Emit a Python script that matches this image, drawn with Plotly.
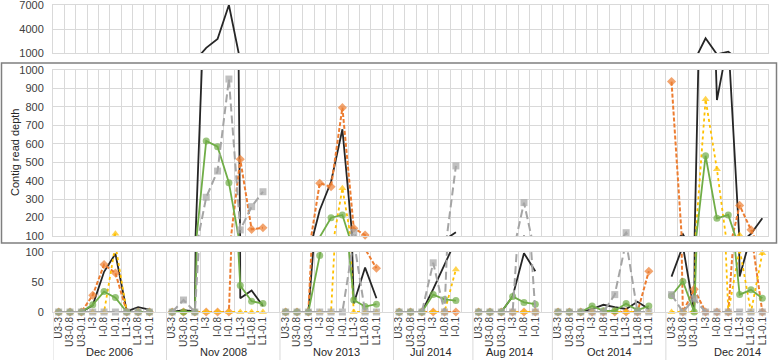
import plotly.graph_objects as go

# ---------------- data ----------------
groups = ["Dec 2006", "Nov 2008", "Nov 2013", "Jul 2014", "Aug 2014", "Oct 2014", "Dec 2014"]
cats_full = ["U3-3", "U3-0.8", "U3-0.1", "I-3", "I-0.8", "I-0.1", "L1-3", "L1-0.8", "L1-0.1"]
cats_short = ["U3-3", "U3-0.8", "U3-0.1", "I-3", "I-0.8", "I-0.1"]
group_cats = [cats_full, cats_full, cats_full, cats_short, cats_short, cats_full, cats_full]

black = [
    0, 0, 0, 11, 67, 97, 1, 8, 4,
    0, 3, 1, 1650, 2750, 7000, 23, 36, 10,
    0, 0, 0, 240, 394, 679, 14, 74, 23,
    0, 0, 0, 38, 78, 120,
    0, 0, 0, 26, 98, 68,
    0, 0, 0, 5, 12, 8, 5, 17, 5,
    59, 110, 0, 2840, 837, 1160, 59, 112, 196,
]
gray = [
    0, 0, 0, 0, 0, 0, 0, 0, 0,
    0, 20, 0, 310, 452, 951, 133, 259, 340,
    0, 0, 0, 0, 0, 0, 120, 0, 0,
    0, 0, 0, 82, 0, 480,
    0, 0, 0, 0, 281, 0,
    0, 0, 0, 0, 0, 29, 118, 0, 0,
    29, 0, 22, 0, 0, 0, 0, 0, 0,
]
orange = [
    0, 0, 0, 28, 79, 65, 0, 0, 0,
    0, 0, 0, 0, 0, 0, 516, 136, 145,
    0, 0, 0, 386, 367, 796, 142, 105, 73,
    0, 0, 0, 0, 0, 0,
    0, 0, 0, 0, 0, 0,
    0, 0, 0, 0, 0, 0, 0, 0, 68,
    937, 0, 38, 0, 0, 0, 266, 134, 0,
]
yellow = [
    0, 0, 0, 0, 0, 112, 0, 0, 0,
    0, 0, 0, 0, 0, 0, 0, 0, 0,
    0, 0, 0, 0, 0, 359, 0, 0, 0,
    0, 0, 0, 0, 0, 71,
    0, 0, 0, 0, 0, 0,
    0, 0, 0, 0, 0, 0, 0, 0, 0,
    0, 0, 0, 841, 462, 0, 105, 0, 98,
]
green = [
    0, 0, 0, 12, 34, 24, 0, 0, 0,
    0, 0, 0, 615, 584, 389, 44, 18, 14,
    0, 0, 0, 94, 199, 214, 20, 9, 13,
    0, 0, 0, 29, 21, 19,
    0, 0, 0, 26, 16, 13,
    0, 0, 0, 10, 2, 2, 14, 3, 10,
    27, 51, 0, 535, 196, 214, 29, 37, 23,
]

# ---------------- slot layout (blank slot between groups) ----------------
slot_of_point = []
tick_vals, tick_text, group_starts = [], [], []
pos = 0
for cats in group_cats:
    group_starts.append(pos)
    for c in cats:
        slot_of_point.append(pos)
        tick_vals.append(pos)
        tick_text.append(c)
        pos += 1
    pos += 1
n_slots = pos - 1  # 63


def full_series(vals):
    ys = [None] * n_slots
    for s, v in zip(slot_of_point, vals):
        ys[s] = v
    return ys


xs = list(range(n_slots))

series = [
    ("black", black, dict(color="#262626", width=1.8, dash="solid"), None, None),
    ("orange", orange, dict(color="#ED7D31", width=2, dash="4px,2px"), "diamond", 7),
    ("yellow", yellow, dict(color="#FFC000", width=1.8, dash="dot"), "triangle-up", 7),
    ("green", green, dict(color="#70AD47", width=1.8, dash="solid"), "circle", 7),
    ("gray", gray, dict(color="#A5A5A5", width=2, dash="8px,4px"), "square", 7),
]

# panels: (xaxis, yaxis, range, ticks)
panels = [
    ("x", "y", [0, 100], [0, 50, 100]),
    ("x2", "y2", [100, 1000], list(range(100, 1001, 100))),
    ("x3", "y3", [1000, 7000], [1000, 4000, 7000]),
]

fig = go.Figure()
for xa, ya, rng, _ in panels:
    lo, hi = rng
    for name, vals, line, sym, size in series:
        ys = full_series(vals)
        if sym is None:
            fig.add_trace(go.Scatter(x=xs, y=ys, mode="lines", line=line, xaxis=xa, yaxis=ya,
                                     hoverinfo="skip", connectgaps=False))
        else:
            sizes = [size if (v is not None and lo <= v <= hi) else 0 for v in ys]
            fig.add_trace(go.Scatter(x=xs, y=ys, mode="lines+markers", line=line,
                                     marker=dict(symbol=sym, size=sizes, color=line["color"],
                                                 line=dict(width=0)),
                                     cliponaxis=False, xaxis=xa, yaxis=ya,
                                     hoverinfo="skip", connectgaps=False))

# ---------------- layout ----------------
font_fam = "Liberation Sans, Arial, sans-serif"
grid = "#D9D9D9"
L, R, T, B = 53, 10, 5, 48
W, H = 778, 360
pw, ph = W - L - R, H - T - B


def py(pix):  # pixel y -> paper
    return (H - B - pix) / ph


def px(pix):
    return (pix - L) / pw


domains = {"y": [0, py(252)], "y2": [py(236), py(70)], "y3": [py(53), 1]}

xcommon = dict(range=[-0.5, n_slots - 0.5], showgrid=False, zeroline=False, automargin=False,
               showline=True, mirror=True, linecolor=grid, linewidth=1,
               minor=dict(tickvals=[i - 0.5 for i in range(n_slots + 1)], showgrid=True,
                          gridcolor=grid, gridwidth=1, ticks=""))

fig.update_layout(
    width=W, height=H, margin=dict(l=L, r=R, t=T, b=B, autoexpand=False),
    plot_bgcolor="white", paper_bgcolor="white", showlegend=False,
    font=dict(family=font_fam, color="#595959"),
    xaxis=dict(**xcommon, tickmode="array", tickvals=tick_vals, ticktext=tick_text,
               tickangle=-90, tickfont=dict(size=10, color="#404040"), ticks="", anchor="y"),
    xaxis2=dict(**xcommon, matches="x", showticklabels=False, anchor="y2"),
    xaxis3=dict(**xcommon, matches="x", showticklabels=False, anchor="y3"),
)
for xa, ya, rng, tv in panels:
    key = "yaxis" if ya == "y" else "yaxis" + ya[1:]
    fig.layout[key] = dict(range=rng, tickmode="array", tickvals=tv, domain=domains[ya],
                           showgrid=True, gridcolor=grid, zeroline=False, showline=True,
                           mirror=True, linecolor=grid, ticks="", ticklabelstandoff=6,
                           automargin=False, ticklabeloverflow="allow",
                           tickfont=dict(size=11, color="#404040"), anchor=xa)

# y-axis title
fig.add_annotation(text="Contig read depth", xref="paper", yref="paper", x=px(15),
                   xanchor="center", yanchor="middle",
                   y=(domains["y2"][0] + domains["y2"][1]) / 2, textangle=-90,
                   showarrow=False, font=dict(size=11, color="#262626"))

# box around middle panel
fig.add_shape(type="rect", xref="paper", yref="paper", x0=px(1.5), x1=px(776.5),
              y0=py(243), y1=py(63), line=dict(color="#7F7F7F", width=1.5))

# group separators and labels
for s in group_starts:
    fig.add_shape(type="line", xref="x", yref="paper", x0=s - 0.5, x1=s - 0.5,
                  y0=0, y1=py(360), line=dict(color=grid, width=1))
label_x = [4.5, 14.5, 24.5, 32.8, 39.7, 48.5, 59.8]
for g, lx in zip(groups, label_x):
    fig.add_annotation(text=g, xref="x", yref="paper", x=lx, y=py(352), showarrow=False,
                       xanchor="center", yanchor="middle",
                       font=dict(size=11, color="#262626"))

fig.write_html("out.html", config={"displayModeBar": False},
               post_script="document.body.style.margin='0';")
